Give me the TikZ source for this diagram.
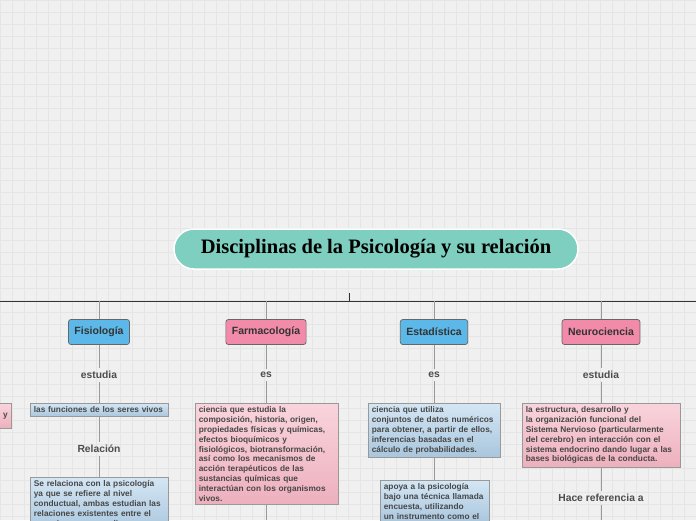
\documentclass[tikz,border=0pt]{standalone}
\usepackage{fontspec}
\setmainfont{Liberation Sans}
\newfontfamily\titlefont{Liberation Serif}
\definecolor{tealt}{HTML}{7ECFC0}
\definecolor{hblue}{HTML}{5BB8E8}
\definecolor{hpink}{HTML}{F28AAA}
\definecolor{btop}{HTML}{D4E6F4}
\definecolor{bbot}{HTML}{A9C6DD}
\definecolor{ptop}{HTML}{F9D4DC}
\definecolor{pbot}{HTML}{EDB0BD}
\begin{document}
\begin{tikzpicture}[x=1pt,y=-1pt,
 bluebox/.style={draw=gray!80,line width=0.7pt,top color=btop,bottom color=bbot,anchor=north west,align=left,inner sep=3.5pt,font=\fontsize{8.3}{9.8}\selectfont\bfseries,text=black!72},
 pinkbox/.style={bluebox,top color=ptop,bottom color=pbot},
 head/.style={draw=black!60,rounded corners=2.5pt,inner xsep=6pt,minimum height=25pt,font=\fontsize{10.5}{11}\selectfont\bfseries,text=black!80,line width=0.7pt},
 lab/.style={font=\fontsize{10.3}{11}\selectfont\bfseries,text=black!70},
 con/.style={draw=black!40,line width=1pt}]
\useasboundingbox (0,0) rectangle (696,520);
\clip (0,0) rectangle (696,520);
\fill[black!6] (0,0) rectangle (696,520);
\foreach \i in {0,12,...,696} \draw[black!10,line width=0.4pt] (\i,0) -- (\i,520);
\foreach \i in {0,12,...,520} \draw[black!10,line width=0.4pt] (0,\i) -- (696,\i);
% title
\node[draw=white,line width=1.5pt,fill=tealt,rounded corners=20pt,minimum width=404pt,minimum height=40pt,font=\titlefont\fontsize{20.5}{22}\selectfont\bfseries] (t) at (376,249) {Disciplinas de la Psicología y su relación};
\coordinate (bus) at (349,301);
\draw[black!80,line width=1pt] (0,301) -- (696,301);
\draw[black!80,line width=1pt] (349,293) -- (bus);
% heads
\node[head,fill=hblue] (h1) at (99,332) {Fisiología};
\node[head,fill=hpink] (h2) at (266,332) {Farmacología};
\node[head,fill=hblue] (h3) at (434,332) {Estadística};
\node[head,fill=hpink] (h4) at (601,332) {Neurociencia};
\foreach \x/\n in {99/h1,266/h2,434/h3,601/h4} \draw[con] (\x,301) -- (\n.north);
% labels
\node[lab] (l1) at (99,375) {estudia};
\node[lab] (l2) at (266,375) {es};
\node[lab] (l3) at (434,375) {es};
\node[lab] (l4) at (601,375) {estudia};
\node[lab] (r1) at (99,449) {Relación};
\node[lab] (r4) at (601,498) {Hace referencia a};
% boxes
\node[pinkbox,minimum height=25pt,text width=15pt] (p0) at (-11,403) {\hfill y};
\node[bluebox,text width=131pt] (b1) at (30,403) {las funciones de los seres vivos};
\node[bluebox,text width=131pt] (b1b) at (30,477) {Se relaciona con la psicología\\ya que se refiere al nivel\\conductual, ambas estudian las\\relaciones existentes entre el\\organismo y su medio};
\node[pinkbox,text width=136pt] (b2) at (195,403) {ciencia que estudia la\\composición, historia, origen,\\propiedades físicas y químicas,\\efectos bioquímicos y\\fisiológicos, biotransformación,\\así como los mecanismos de\\acción terapéuticos de las\\sustancias químicas que\\interactúan con los organismos\\vivos.};
\node[bluebox,text width=125pt] (b3) at (368,403) {ciencia que utiliza\\conjuntos de datos numéricos\\para obtener, a partir de ellos,\\inferencias basadas en el\\cálculo de probabilidades.};
\node[bluebox,text width=102pt] (b3b) at (380,480) {apoya a la psicología\\bajo una técnica llamada\\encuesta, utilizando\\un instrumento como el};
\node[pinkbox,text width=151pt] (b4) at (522,403) {la estructura, desarrollo y\\la organización funcional del\\Sistema Nervioso (particularmente\\del cerebro) en interacción con el\\sistema endocrino dando lugar a las\\bases biológicas de la conducta.};
\coordinate (e2) at (266,520);
\coordinate (e4) at (601,520);
% connectors
\draw[con] (h1) -- (l1); \draw[con] (l1) -- (b1.north-|l1);
\draw[con] (b1.south-|l1) -- (r1); \draw[con] (r1) -- (b1b.north-|r1);
\draw[con] (h2) -- (l2); \draw[con] (l2) -- (b2.north-|l2); \draw[con] (b2.south-|l2) -- (e2);
\draw[con] (h3) -- (l3); \draw[con] (l3) -- (b3.north-|l3); \draw[con] (b3.south-|l3) -- (b3b.north-|l3);
\draw[con] (h4) -- (l4); \draw[con] (l4) -- (b4.north-|l4); \draw[con] (b4.south-|l4) -- (r4); \draw[con] (r4) -- (e4);
\end{tikzpicture}
\end{document}
